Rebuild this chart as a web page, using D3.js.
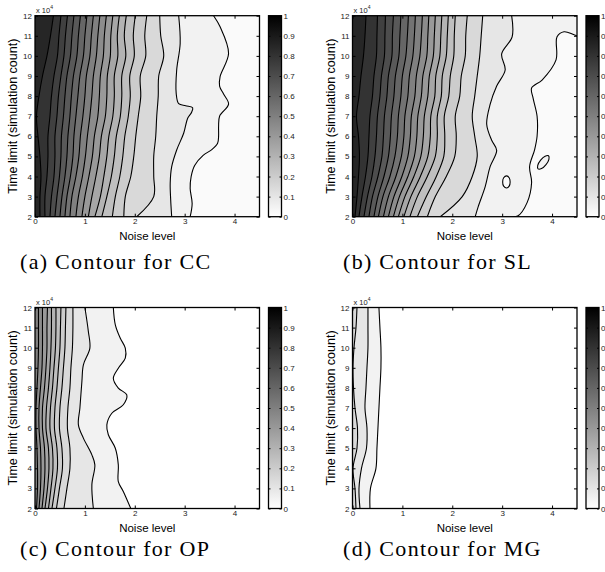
<!DOCTYPE html>
<html>
<head>
<meta charset="utf-8">
<script src="https://cdn.jsdelivr.net/npm/d3@7"></script>
<style>
body { margin: 0; background: #fff; }
</style>
</head>
<body>
<script>
var WIDTH = 605;
var HEIGHT = 572;

var svg = d3.select("body")
  .append("svg")
  .attr("width", WIDTH)
  .attr("height", HEIGHT);

// axes shared by all four panels
var noiseTicks = [0, 1, 2, 3, 4];
var noiseMax = 4.5;
var timeTicks = [2, 3, 4, 5, 6, 7, 8, 9, 10, 11, 12];
var barTicks = [0, 0.1, 0.2, 0.3, 0.4, 0.5, 0.6, 0.7, 0.8, 0.9, 1];

// (a) CC : noise level of each contour at timeTicks, highest level first
var ccLevels = [0.85, 0.8, 0.75, 0.7, 0.65, 0.6, 0.55, 0.5, 0.45, 0.4, 0.35, 0.3, 0.25, 0.2, 0.15, 0.1, 0.05];
var ccGrid = [
  [0.10, 0.10, 0.12, 0.10, 0.06, 0.03, 0.08, 0.15, 0.24, 0.31, 0.37],
  [0.20, 0.20, 0.24, 0.26, 0.26, 0.30, 0.33, 0.38, 0.45, 0.48, 0.52],
  [0.30, 0.33, 0.38, 0.40, 0.40, 0.44, 0.47, 0.52, 0.58, 0.61, 0.65],
  [0.40, 0.44, 0.49, 0.52, 0.53, 0.57, 0.60, 0.64, 0.71, 0.74, 0.78],
  [0.50, 0.54, 0.60, 0.64, 0.66, 0.70, 0.73, 0.77, 0.84, 0.87, 0.91],
  [0.60, 0.64, 0.71, 0.76, 0.78, 0.82, 0.86, 0.90, 0.97, 1.00, 1.04],
  [0.70, 0.74, 0.82, 0.88, 0.91, 0.96, 1.00, 1.03, 1.10, 1.13, 1.17],
  [0.82, 0.87, 0.95, 1.01, 1.05, 1.10, 1.14, 1.17, 1.23, 1.26, 1.30],
  [0.94, 1.00, 1.08, 1.15, 1.19, 1.26, 1.29, 1.31, 1.37, 1.39, 1.43],
  [1.07, 1.14, 1.22, 1.29, 1.33, 1.41, 1.44, 1.45, 1.51, 1.52, 1.56],
  [1.20, 1.31, 1.38, 1.44, 1.48, 1.56, 1.59, 1.59, 1.66, 1.65, 1.69],
  [1.34, 1.44, 1.53, 1.59, 1.63, 1.71, 1.74, 1.74, 1.82, 1.79, 1.83],
  [1.55, 1.61, 1.70, 1.76, 1.80, 1.87, 1.91, 1.90, 1.99, 1.97, 2.01],
  [1.78, 1.81, 1.92, 1.98, 2.02, 2.07, 2.12, 2.11, 2.22, 2.20, 2.24],
  [2.04, 2.38, 2.38, 2.38, 2.42, 2.44, 2.47, 2.48, 2.58, 2.52, 2.50]
];
var ccTen = [[2.74, 2], [2.72, 2.83], [2.71, 3.66], [2.74, 4.49], [2.84, 5.32], [2.98, 6.15], [3.06, 6.9],
  [3.14, 7.2], [3.16, 7.42], [3.02, 7.52], [2.88, 7.62], [2.83, 8.14], [2.84, 9.3], [2.91, 10.62], [2.88, 12]];
var ccFive = [[3.11, 2], [3.15, 2.66], [3.11, 3.4], [3.13, 4.0], [3.2, 4.55], [3.37, 5.05], [3.55, 5.35],
  [3.66, 5.65], [3.68, 6.0], [3.68, 6.5], [3.70, 7.0], [3.88, 7.6], [3.78, 8.1], [3.70, 8.5], [3.71, 8.97],
  [3.88, 10.13], [3.71, 11.45], [3.58, 12]];

// (b) SL
var slLevels = ccLevels;
var slGrid = [
  [0.05, 0.09, 0.12, 0.14, 0.12, 0.08, 0.13, 0.17, 0.22, 0.25, 0.27],
  [0.13, 0.19, 0.26, 0.31, 0.33, 0.35, 0.40, 0.43, 0.48, 0.49, 0.50],
  [0.23, 0.30, 0.39, 0.45, 0.48, 0.50, 0.55, 0.58, 0.64, 0.65, 0.66],
  [0.33, 0.40, 0.51, 0.59, 0.62, 0.64, 0.69, 0.72, 0.79, 0.80, 0.82],
  [0.43, 0.51, 0.63, 0.72, 0.76, 0.78, 0.83, 0.86, 0.93, 0.95, 0.97],
  [0.52, 0.61, 0.75, 0.85, 0.90, 0.92, 0.97, 1.00, 1.07, 1.10, 1.12],
  [0.62, 0.72, 0.87, 0.98, 1.03, 1.05, 1.11, 1.14, 1.21, 1.24, 1.26],
  [0.72, 0.83, 0.99, 1.11, 1.16, 1.18, 1.25, 1.28, 1.35, 1.38, 1.40],
  [0.82, 0.94, 1.11, 1.24, 1.29, 1.31, 1.38, 1.41, 1.49, 1.51, 1.53],
  [0.92, 1.05, 1.23, 1.37, 1.42, 1.44, 1.51, 1.54, 1.62, 1.64, 1.66],
  [1.03, 1.17, 1.36, 1.51, 1.56, 1.57, 1.65, 1.67, 1.75, 1.77, 1.79],
  [1.15, 1.30, 1.50, 1.66, 1.70, 1.70, 1.78, 1.80, 1.88, 1.90, 1.92],
  [1.30, 1.48, 1.68, 1.83, 1.85, 1.84, 1.93, 1.96, 2.03, 2.04, 2.06],
  [1.50, 1.66, 1.88, 2.05, 2.08, 2.06, 2.15, 2.18, 2.26, 2.27, 2.30],
  [1.76, 2.20, 2.40, 2.50, 2.45, 2.40, 2.45, 2.50, 2.55, 2.58, 2.61]
];
var slTen = [[2.46, 2], [2.52, 2.5], [2.66, 3.5], [2.76, 4.5], [2.89, 5.3], [2.79, 5.8], [2.69, 6.6],
  [2.76, 7.6], [2.89, 8.5], [3.06, 9.3], [2.99, 10.1], [3.2, 10.95], [3.19, 12]];
var slFive = [[3.05, 2], [3.31, 2.03], [3.50, 2.7], [3.59, 3.7], [3.55, 4.5], [3.65, 5.33], [3.70, 6.0],
  [3.70, 7.0], [3.62, 7.9], [3.59, 8.4], [3.80, 8.8], [4.08, 9.8], [4.10, 10.95], [4.24, 11.2], [4.44, 11.05], [4.6, 10.9]];
var slIslandA = [[3.09, 4.03], [3.14, 3.94], [3.16, 3.73], [3.14, 3.52], [3.09, 3.43], [3.03, 3.52], [3.01, 3.73], [3.03, 3.94]];
var slIslandB = [[3.93, 5.03], [3.937, 4.857], [3.879, 4.595], [3.789, 4.397], [3.72, 4.38], [3.713, 4.553], [3.771, 4.815], [3.861, 5.013]];

// (c) OP
var opLevels = [0.5, 0.45, 0.4, 0.35, 0.3, 0.25, 0.2, 0.15, 0.1, 0.05];
var opGrid = [
  [0.03, 0.05, 0.05, 0.04, 0.02, 0.02, 0.04, 0.06, 0.07, 0.07, 0.07],
  [0.08, 0.11, 0.12, 0.11, 0.08, 0.08, 0.11, 0.14, 0.15, 0.15, 0.15],
  [0.14, 0.18, 0.20, 0.19, 0.15, 0.15, 0.19, 0.22, 0.24, 0.24, 0.25],
  [0.20, 0.25, 0.28, 0.27, 0.22, 0.23, 0.27, 0.30, 0.32, 0.33, 0.33],
  [0.27, 0.32, 0.36, 0.35, 0.30, 0.31, 0.35, 0.38, 0.41, 0.42, 0.42],
  [0.34, 0.40, 0.45, 0.44, 0.39, 0.40, 0.44, 0.47, 0.50, 0.51, 0.52],
  [0.43, 0.49, 0.55, 0.54, 0.49, 0.50, 0.54, 0.57, 0.60, 0.61, 0.62],
  [0.58, 0.64, 0.70, 0.70, 0.65, 0.66, 0.70, 0.72, 0.75, 0.76, 0.76]
];
var opTen = [[1.17, 2], [1.14, 3.18], [1.20, 4.17], [1.14, 4.67], [0.97, 5.5], [0.87, 6.16], [0.90, 7.0],
  [0.94, 8.32], [0.97, 9.15], [1.10, 9.98], [1.07, 10.8], [1.00, 12]];
var opFive = [[1.92, 2], [1.77, 2.85], [1.67, 3.34], [1.67, 4.17], [1.61, 5.0], [1.47, 5.67], [1.44, 6.16],
  [1.54, 6.74], [1.77, 7.16], [1.84, 7.65], [1.67, 7.99], [1.57, 8.48], [1.67, 8.98], [1.81, 9.48],
  [1.81, 9.98], [1.71, 10.47], [1.61, 11.14], [1.57, 12]];

// (d) MG
var mgLevels = [0.15, 0.1, 0.05];
var mgGrid = [
  [0.07, 0.05, 0.01, 0.09, 0.10, 0.05, 0.02, 0.01, 0.03, 0.07, 0.09],
  [0.15, 0.13, 0.18, 0.28, 0.29, 0.25, 0.27, 0.29, 0.31, 0.31, 0.31],
  [0.35, 0.36, 0.47, 0.49, 0.51, 0.53, 0.55, 0.57, 0.57, 0.55, 0.53]
];

var captions = ["(a) Contour for CC", "(b) Contour for SL", "(c) Contour for OP", "(d) Contour for MG"];

function gridLine(xs) {
  return xs.map(function (v, i) { return [v, timeTicks[i]]; });
}

var panels = [
  { left: 35, top: 15.7, levels: ccLevels, lines: ccGrid.map(gridLine).concat([ccTen, ccFive]), floor: 0.02, islands: [], capX: 20, capY: 269 },
  { left: 352.5, top: 15.7, levels: slLevels, lines: slGrid.map(gridLine).concat([slTen, slFive]), floor: 0.02,
    islands: [{ pts: slIslandA, val: 0.02 }, { pts: slIslandB, val: 0.05 }], capX: 343, capY: 269 },
  { left: 35, top: 307.5, levels: opLevels, lines: opGrid.map(gridLine).concat([opTen, opFive]), floor: 0, islands: [], capX: 20, capY: 556 },
  { left: 352.5, top: 307.5, levels: mgLevels, lines: mgGrid.map(gridLine), floor: 0, islands: [], capX: 343, capY: 556 }
];

var PW = 224.5;
var PH = 201;
var grey = d3.scaleLinear().domain([0, 1]).range(["#ffffff", "#000000"]);

var defs = svg.append("defs");
var grad = defs.append("linearGradient")
  .attr("id", "gbar")
  .attr("x1", 0).attr("y1", 0).attr("x2", 0).attr("y2", 1);
grad.append("stop").attr("offset", "0%").attr("stop-color", "#000");
grad.append("stop").attr("offset", "100%").attr("stop-color", "#fff");

function drawPanel(p, k) {
  var x = d3.scaleLinear().domain([0, noiseMax]).range([0, PW]);
  var y = d3.scaleLinear().domain([2, 12]).range([PH, 0]);
  var g = svg.append("g").attr("transform", "translate(" + p.left + "," + p.top + ")");

  defs.append("clipPath").attr("id", "clip" + k)
    .append("rect").attr("width", PW).attr("height", PH);

  var line = d3.line()
    .x(function (d) { return x(d[0]); })
    .y(function (d) { return y(d[1]); })
    .curve(d3.curveCatmullRom.alpha(0.5));
  var ring = d3.line()
    .x(function (d) { return x(d[0]); })
    .y(function (d) { return y(d[1]); })
    .curve(d3.curveCatmullRomClosed.alpha(0.5));

  function edgeY(t) {
    if (t >= 12) return y(12) - 5;
    if (t <= 2) return y(2) + 5;
    return y(t);
  }
  function region(pts) {
    var xr = x(noiseMax) + 5;
    return line(pts) + "L" + xr + "," + edgeY(pts[pts.length - 1][1]) + "L" + xr + "," + edgeY(pts[0][1]) + "Z";
  }

  var plot = g.append("g").attr("clip-path", "url(#clip" + k + ")");
  plot.append("rect").attr("width", PW).attr("height", PH).attr("fill", grey(p.levels[0]));

  p.lines.forEach(function (pts, i) {
    var below = i + 1 < p.levels.length ? p.levels[i + 1] : p.floor;
    plot.append("path").attr("d", region(pts)).attr("fill", grey(below));
  });
  p.islands.forEach(function (isl) {
    plot.append("path").attr("d", ring(isl.pts)).attr("fill", grey(isl.val));
  });

  plot.selectAll(".cline")
    .data(p.lines)
    .enter()
    .append("path")
    .attr("class", "cline")
    .attr("d", line)
    .attr("fill", "none")
    .attr("stroke", "#000")
    .attr("stroke-width", 1.1);
  plot.selectAll(".island")
    .data(p.islands)
    .enter()
    .append("path")
    .attr("d", function (d) { return ring(d.pts); })
    .attr("fill", "none")
    .attr("stroke", "#000")
    .attr("stroke-width", 1.1);

  // MATLAB style inward ticks on every side
  var fontAxis = function (sel) {
    sel.attr("font-family", "Liberation Sans, Arial, sans-serif").attr("font-size", 8);
    sel.select(".domain").remove();
    sel.selectAll("line").attr("stroke", "#000");
    sel.selectAll("text").attr("fill", "#222");
  };
  g.append("g").attr("transform", "translate(0," + PH + ")")
    .call(d3.axisBottom(x).tickValues(noiseTicks).tickSize(-3).tickPadding(2).tickFormat(d3.format("d"))).call(fontAxis);
  g.append("g")
    .call(d3.axisTop(x).tickValues(noiseTicks).tickSize(-3).tickFormat("")).call(fontAxis);
  g.append("g")
    .call(d3.axisLeft(y).tickValues(timeTicks).tickSize(-3).tickPadding(3).tickFormat(d3.format("d"))).call(fontAxis);
  g.append("g").attr("transform", "translate(" + PW + ",0)")
    .call(d3.axisRight(y).tickValues(timeTicks).tickSize(-3).tickFormat("")).call(fontAxis);

  g.append("rect")
    .attr("width", PW).attr("height", PH)
    .attr("fill", "none").attr("stroke", "#000").attr("stroke-width", 1.3);

  var expo = g.append("text")
    .attr("x", 1).attr("y", -3)
    .attr("font-family", "Liberation Sans, Arial, sans-serif")
    .attr("font-size", 7.5)
    .attr("fill", "#222")
    .text("x 10");
  expo.append("tspan").attr("dy", -3.5).attr("font-size", 5).text("4");

  g.append("text")
    .attr("transform", "translate(-18," + (PH / 2) + ") rotate(-90)")
    .attr("text-anchor", "middle")
    .attr("font-family", "Liberation Sans, Arial, sans-serif")
    .attr("font-size", 12.5)
    .text("Time limit (simulation count)");

  g.append("text")
    .attr("x", PW / 2).attr("y", PH + 23)
    .attr("text-anchor", "middle")
    .attr("font-family", "Liberation Sans, Arial, sans-serif")
    .attr("font-size", 11.5)
    .text("Noise level");

  // colour bar
  var cb = g.append("g").attr("transform", "translate(" + (PW + 9) + ",0)");
  var c = d3.scaleLinear().domain([0, 1]).range([PH, 0]);
  cb.append("rect").attr("width", 13).attr("height", PH).attr("fill", "url(#gbar)");
  cb.append("g").attr("transform", "translate(13,0)")
    .call(d3.axisRight(c).tickValues(barTicks).tickSize(-2).tickPadding(2).tickFormat(function (d) { return d; }))
    .call(fontAxis);
  cb.append("g")
    .call(d3.axisLeft(c).tickValues(barTicks).tickSize(-2).tickFormat(""))
    .call(fontAxis);
  cb.append("rect").attr("width", 13).attr("height", PH)
    .attr("fill", "none").attr("stroke", "#000").attr("stroke-width", 1.3);

  svg.append("text")
    .attr("x", p.capX).attr("y", p.capY)
    .attr("font-family", "Liberation Serif, serif")
    .attr("font-size", 22)
    .attr("letter-spacing", 1.3)
    .text(captions[k]);
}

panels.forEach(drawPanel);
</script>
</body>
</html>
